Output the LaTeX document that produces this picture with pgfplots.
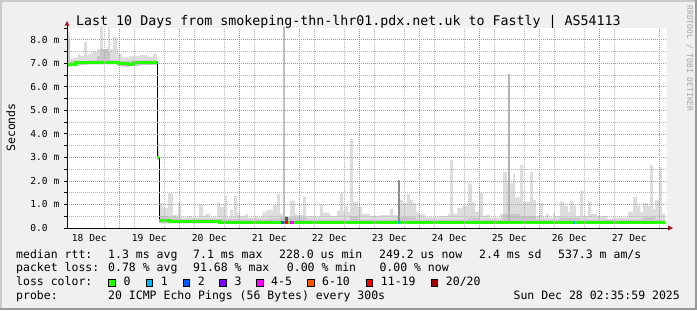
\documentclass[border=0pt]{standalone}
\usepackage{pgfplots}
\pgfplotsset{compat=1.18}
\usepackage{pgfplotstable}
\usepackage{fontspec}
\setmainfont{DejaVu Sans Mono}
\definecolor{bgc}{HTML}{F0F0F0}
\definecolor{shadea}{HTML}{CBCBCB}
\definecolor{shadeb}{HTML}{999999}
\definecolor{mgrid}{HTML}{E08080}
\definecolor{ngrid}{HTML}{B4B4B4}
\definecolor{smokeL}{HTML}{DDDDDD}
\definecolor{smokeM}{HTML}{C6C6C6}
\definecolor{arrowc}{HTML}{9B1B1B}
\definecolor{lc0}{HTML}{26FF00}
\definecolor{lc1}{HTML}{00B8FF}
\definecolor{lc2}{HTML}{0059FF}
\definecolor{lc3}{HTML}{7E00FF}
\definecolor{lc5}{HTML}{FF00FF}
\definecolor{lc10}{HTML}{FF5500}
\definecolor{lc19}{HTML}{FF0000}
\definecolor{lc20}{HTML}{A00000}
\newcommand\legf{\fontsize{11.5bp}{13bp}\selectfont}
\newcommand\tickf{\fontsize{9.6bp}{11bp}\selectfont}
\newcommand\titf{\fontsize{13.3bp}{15bp}\selectfont}

\pgfplotstableread{
h lo hi
-20.9 6.85 8.33
-19.7 6.88 7.20
-18.5 6.90 7.25
-16.5 6.90 7.40
-15.7 6.92 7.30
-14.1 6.92 7.90
-12.9 6.95 7.35
-12.5 6.95 7.40
-10.9 6.95 7.50
-8.9 6.95 7.60
-7.7 6.95 8.60
-6.5 6.95 7.60
-4.9 6.95 7.70
-4.5 6.95 8.60
-3.7 6.95 7.60
-2.5 6.95 8.12
-0.9 6.92 7.60
-0.5 6.88 7.40
1.1 6.85 7.25
4.0 6.88 7.30
7.1 6.90 7.30
8.3 6.92 7.35
11.1 6.92 7.28
13.5 6.92 7.40
15.1 2.90 3.66
15.9 0.20 1.06
17.5 0.20 0.85
19.5 0.20 1.48
21.5 0.20 0.55
23.5 0.20 1.09
24.7 0.20 0.45
27.0 0.20 0.50
29.0 0.20 0.42
31.9 0.20 1.02
33.5 0.20 0.50
34.3 0.20 0.60
36.3 0.20 0.45
39.1 0.20 1.06
40.3 0.20 0.90
41.9 0.20 0.92
42.3 0.20 1.36
43.1 0.20 0.45
44.3 0.20 0.78
45.5 0.20 0.50
45.9 0.20 1.36
47.1 0.20 0.66
48.3 0.20 0.50
50.3 0.20 0.60
51.5 0.20 0.42
54.3 0.20 0.50
55.5 0.20 0.45
57.1 0.20 0.65
58.3 0.20 0.72
59.5 0.20 0.78
61.5 0.20 0.98
63.1 0.20 1.45
64.3 0.20 0.60
65.5 0.20 0.45
66.3 0.20 0.50
67.5 0.20 0.45
68.3 0.20 1.16
70.3 0.20 0.60
71.1 0.20 0.55
73.5 0.20 1.33
74.7 0.20 0.50
78.3 0.20 0.48
80.3 0.20 1.02
81.5 0.20 0.65
84.3 0.20 0.50
87.1 0.20 0.74
88.3 0.20 1.48
89.5 0.20 0.70
90.3 0.20 0.93
91.5 0.20 0.70
92.3 0.20 3.78
93.5 0.20 1.12
95.5 0.20 0.90
97.1 0.20 0.60
100.3 0.20 0.50
104.3 0.20 0.55
108.3 0.20 0.80
109.5 0.20 0.55
111.1 0.20 0.50
112.3 0.20 1.20
113.5 0.20 1.06
115.1 0.20 1.44
116.3 0.20 1.20
117.5 0.20 1.06
118.7 0.20 0.66
119.9 0.20 0.60
122.3 0.20 0.45
128.3 0.20 0.50
131.5 0.20 0.60
132.3 0.20 2.89
133.5 0.20 0.60
135.1 0.20 0.85
137.1 0.20 0.93
139.5 0.20 1.90
141.1 0.20 1.10
142.3 0.20 0.70
143.9 0.20 1.49
145.5 0.20 0.50
146.3 0.20 0.55
148.3 0.20 0.42
152.3 0.20 0.60
153.5 0.20 2.39
155.1 0.20 1.90
157.5 0.20 2.30
158.3 0.20 1.30
160.3 0.20 2.68
161.5 0.20 1.12
164.3 0.20 2.40
165.5 0.20 1.19
166.7 0.20 0.50
168.3 0.20 1.06
169.5 0.20 0.45
170.7 0.20 0.60
171.9 0.20 0.42
173.5 0.20 0.60
174.3 0.20 0.50
176.3 0.20 1.12
177.9 0.20 0.93
179.5 0.20 0.70
180.3 0.20 1.15
181.5 0.20 0.95
182.7 0.20 0.50
184.3 0.20 1.58
185.5 0.20 0.50
187.5 0.20 1.12
188.7 0.20 0.60
191.1 0.20 0.50
195.1 0.20 0.40
197.5 0.20 0.42
203.5 0.20 0.70
205.5 0.20 1.33
207.1 0.20 0.93
208.3 0.20 0.70
209.5 0.20 1.06
211.5 0.20 0.93
212.3 0.20 2.67
213.5 0.20 0.80
214.3 0.20 1.19
215.9 0.20 2.60
217.1 0.20 0.60
218.3 0.20 0.60
}\smokeL

\pgfplotstableread{
h hi
-20.9 7.98
-19.7 7.10
-12.0 7.12
-8.9 7.30
-7.7 7.60
-4.5 7.50
-3.7 7.15
-0.9 7.10
7.1 7.12
15.1 3.30
15.9 0.50
19.5 0.45
23.5 0.38
60.0 0.40
64.3 0.45
74.7 0.36
92.3 0.50
95.5 0.36
112.3 0.45
118.7 0.36
139.5 0.42
143.9 0.36
153.5 0.60
160.3 0.50
166.7 0.36
176.3 0.42
184.3 0.36
209.5 0.45
214.3 0.36
218.3 0.36
}\smokeM

\pgfplotstableread{
h med
-20.9 6.95
-17.7 7.02
-10.0 7.05
-0.2 6.97
3.5 6.95
5.5 7.03
15.2 3.00
16.0 0.33
18.3 0.30
20.0 0.28
22.3 0.27
27.0 0.26
40.0 0.25
119.5 0.23
121.5 0.25
145.0 0.22
152.0 0.25
168.3 0.22
171.0 0.25
174.3 0.22
178.3 0.25
190.0 0.22
195.0 0.25
199.0 0.22
204.0 0.25
218.3 0.25
}\median

\pgfplotstableread{
h med
-20.9 6.95
-17.7 7.02
-10.0 7.05
-0.2 6.97
3.5 6.95
5.5 7.03
15.2 7.03
15.2 nan
15.2 3.00
16.0 3.00
16.0 nan
16.0 0.33
18.3 0.30
20.0 0.28
22.3 0.27
27.0 0.26
40.0 0.25
119.5 0.23
121.5 0.25
145.0 0.22
152.0 0.25
168.3 0.22
171.0 0.25
174.3 0.22
178.3 0.25
190.0 0.22
195.0 0.25
199.0 0.22
204.0 0.25
218.3 0.25
}\mediangreen

\begin{document}
\begin{tikzpicture}[x=1bp,y=1bp]
\fill[bgc] (0,0) rectangle (697,310);
\fill[shadea] (0,308) rectangle (697,310);
\fill[shadea] (0,0) rectangle (2,310);
\fill[shadeb] (0,0) rectangle (697,2);
\fill[shadeb] (695,0) rectangle (697,310);

\begin{axis}[
  at={(67bp,82bp)}, anchor=south west,
  width=600bp, height=200bp, scale only axis,
  xmin=-20.9, xmax=219.1, ymin=0, ymax=8.5,
  axis background/.style={fill=white},
  axis line style={draw=none},
  axis on top,
  no markers,
  unbounded coords=jump,
  tick label style={font=\tickf},
  xtick={-12,12,...,204},
  xticklabels={18 Dec,19 Dec,20 Dec,21 Dec,22 Dec,23 Dec,24 Dec,25 Dec,26 Dec,27 Dec},
  xticklabel style={anchor=north, inner sep=0pt, yshift=-6.3bp},
  minor x tick num=3,
  xtick style={draw=none},
  xminorgrids=true,
  extra x ticks={0,24,...,216},
  extra x tick labels={},
  extra x tick style={xmajorgrids=true, xminorgrids=false, major tick length=0pt},
  ytick={0,1,...,8},
  yticklabels={0.0\phantom{ m},1.0 m,2.0 m,3.0 m,4.0 m,5.0 m,6.0 m,7.0 m,8.0 m},
  yticklabel style={anchor=east, inner sep=0pt, xshift=-7.5bp},
  minor y tick num=1,
  ytick style={draw=none},
  ymajorgrids=true, yminorgrids=true,
  major grid style={mgrid, line width=0.7bp, dash pattern=on 1bp off 1bp},
  minor grid style={ngrid, line width=0.7bp, dash pattern=on 1bp off 1bp},
]
% smoke: light band top, darker band top, then white below the smoke bottom
\addplot[const plot, fill=smokeL, draw=none] table[x=h, y=hi] {\smokeL} \closedcycle;
\addplot[const plot, fill=smokeM, draw=none] table[x=h, y=hi] {\smokeM} \closedcycle;
\addplot[const plot, fill=white, draw=none] table[x=h, y=lo] {\smokeL} \closedcycle;
% isolated spikes
\addplot[fill=black!23, draw=none] coordinates {(65.5,0.25) (66.1,0.25) (66.1,8.6) (65.5,8.6)} -- cycle;
\addplot[fill=black!45, draw=none] coordinates {(111.4,0.25) (112.1,0.25) (112.1,2.04) (111.4,2.04)} -- cycle;
\addplot[fill=black!30, draw=none] coordinates {(155.5,0.25) (156.3,0.25) (156.3,6.54) (155.5,6.54)} -- cycle;
\addplot[fill=black!65, draw=none] coordinates {(66.3,0.27) (67.5,0.27) (67.5,0.48) (66.3,0.48)} -- cycle;
% median
\addplot[const plot, black, line width=1bp] table[x=h, y=med] {\median};
\addplot[const plot, lc0, line width=3bp] table[x=h, y=med] {\mediangreen};
% loss colours on the median
\addplot[const plot, lc2, line width=3bp] coordinates {(64.7,0.25) (65.9,0.25)};
\addplot[const plot, lc19, line width=3bp] coordinates {(65.9,0.25) (67.5,0.25)};
\addplot[const plot, lc5, line width=3bp] coordinates {(68.3,0.25) (69.9,0.25)};
\addplot[const plot, lc1, line width=3bp] coordinates {(111.5,0.25) (112.3,0.25)};
\addplot[const plot, lc1, line width=3bp] coordinates {(181.5,0.25) (182.3,0.25)};
\end{axis}

% axes with arrows
\draw[black!94, line width=1bp] (64,82) -- (668,82);
\fill[arrowc] (668,79.5) -- (673,82) -- (668,84.5) -- cycle;
\draw[black!94, line width=1bp] (67,82) -- (67,284.5);
\fill[arrowc] (64.5,284.3) -- (67,289) -- (69.5,284.3) -- cycle;
\foreach \yy in {0,0.5,...,8.5} {\draw[black, line width=0.8bp] (64,82+\yy*23.53) -- (67,82+\yy*23.53);}

% title and labels
\node[anchor=base west, inner sep=0pt, font=\titf] at (76,285) {Last 10 Days from smokeping-thn-lhr01.pdx.net.uk to Fastly | AS54113};
\node[rotate=90, anchor=base, inner sep=0pt, font=\legf] at (15,182.5) {Seconds};
\node[rotate=-90, anchor=base, inner sep=0pt, font=\fontsize{8bp}{9bp}\selectfont, text=black!35] at (687,251.5) {RRDTOOL / TOBI OETIKER};

% legend
\begin{scope}[every node/.style={anchor=base west, inner sep=0pt, font=\legf}]
\node at (16,52) {median rtt:};
\node at (108,52) {1.3 ms avg};
\node at (193,52) {7.1 ms max};
\node at (279,52) {228.0 us min};
\node at (379,52) {249.2 us now};
\node at (479,52) {2.4 ms sd};
\node at (558,52) {537.3 m am/s};
\node at (16,38.5) {packet loss:};
\node at (108,38.5) {0.78 \% avg};
\node at (193,38.5) {91.68 \% max};
\node at (286.7,38.5) {0.00 \% min};
\node at (379.3,38.5) {0.00 \% now};
\node at (16,24.5) {loss color:};
\node at (123.3,24.5) {0};
\node at (160.7,24.5) {1};
\node at (197.7,24.5) {2};
\node at (234.3,24.5) {3};
\node at (271,24.5) {4-5};
\node at (322,24.5) {6-10};
\node at (380.7,24.5) {11-19};
\node at (445.7,24.5) {20/20};
\node at (16,11) {probe:};
\node at (108,11) {20 ICMP Echo Pings (56 Bytes) every 300s};
\node[anchor=base east] at (680,11) {Sun Dec 28 02:35:59 2025};
\end{scope}
\foreach \bx/\bc in {108.3/lc0,145.7/lc1,182.7/lc2,219.3/lc3,256/lc5,307/lc10,365.7/lc19,430.7/lc20}
  {\draw[fill=\bc, line width=1bp] (\bx+0.5,23.8) rectangle (\bx+7.2,30.5);}

\pgfresetboundingbox
\path[use as bounding box] (0,0) rectangle (697,310);
\end{tikzpicture}
\end{document}
